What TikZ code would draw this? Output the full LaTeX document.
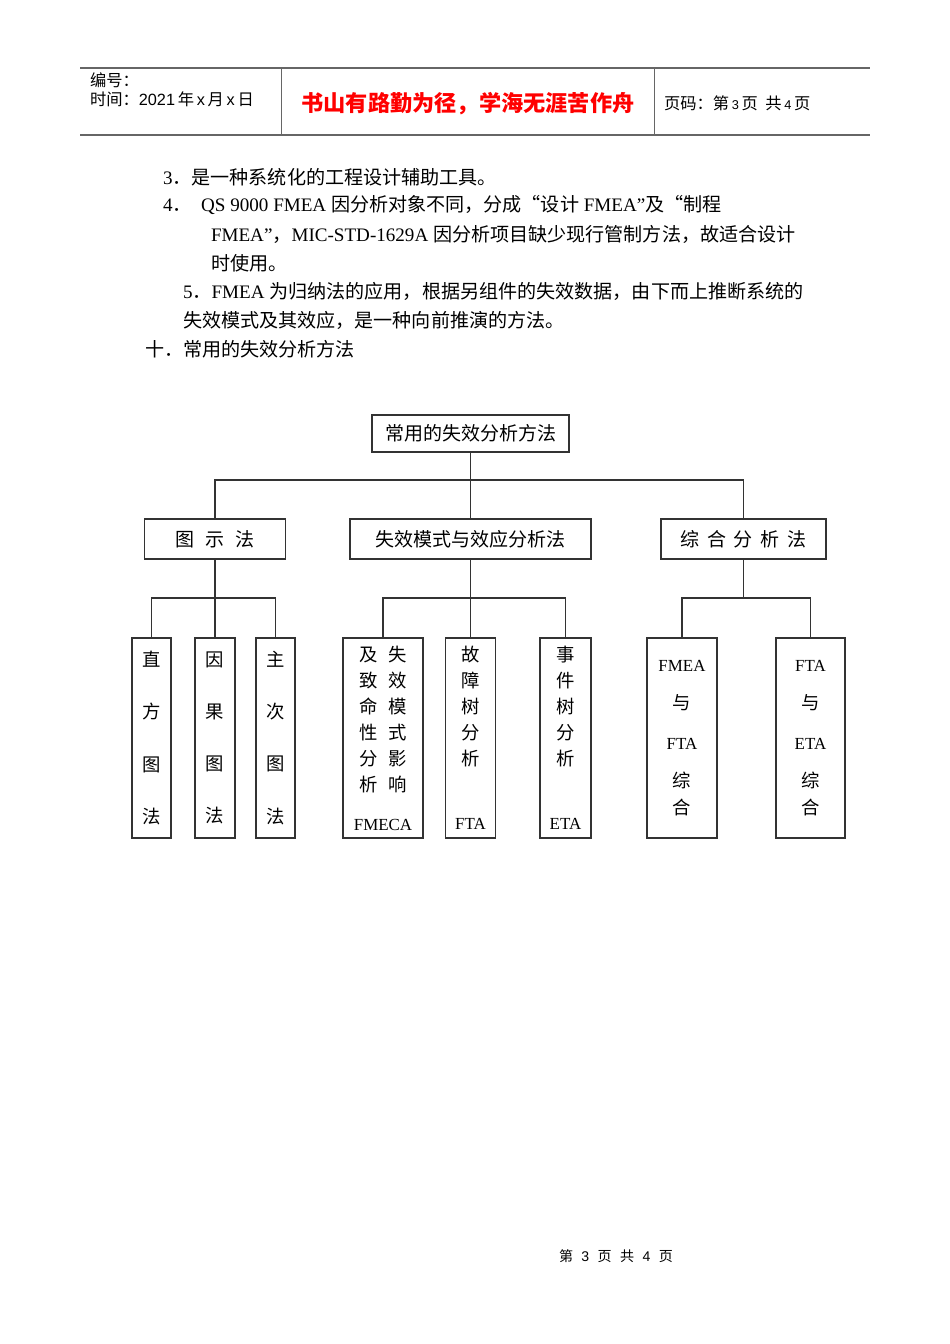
\documentclass[tikz,border=0pt]{standalone}
\usepackage{fontspec}
\setmainfont{Noto Sans CJK SC}
\newfontfamily\lat{Liberation Serif}
\newfontfamily\arial{Liberation Sans}
\definecolor{boxline}{HTML}{333333}
\definecolor{rulegray}{HTML}{666666}
\newcommand{\pxu}{0.6263pt}
\newcommand{\en}[1]{{\lat #1}}

\begin{document}
\begin{tikzpicture}[x=0.6263pt, y=-0.6263pt,
  every node/.style={inner sep=0pt, outer sep=0pt},
  body/.style={anchor=west, font=\fontsize{11.95}{14}\selectfont},
  chartbox/.style={draw=boxline, line width=0.9pt, font=\fontsize{11.9}{14}\selectfont},
  tallbox/.style={draw=boxline, line width=0.9pt, align=center, minimum height=200*\pxu},
  link/.style={draw=boxline, line width=0.9pt}]
  \useasboundingbox (0,0) rectangle (950,1344);

  % header
  \draw[rulegray, line width=1.2pt] (80,68) -- (870,68) (80,135) -- (870,135);
  \draw[rulegray, line width=0.6pt] (281,68) -- (281,135) (654,68) -- (654,135);
  \node[anchor=west, font=\fontsize{10.2}{12}\selectfont] (hdno) at (90,80) {编号：};
  \node[anchor=west, font=\fontsize{10.2}{12}\selectfont] (hddate) at (90,99)
    {时间：{\arial 2021}\,年\,{\arial x}\,月\,{\arial x}\,日};
  \node[font=\fontsize{13.9}{16}\selectfont\bfseries, text=red] (motto) at (468,104)
    {书山有路勤为径，学海无涯苦作舟};
  \node[anchor=west, font=\fontsize{10.2}{12}\selectfont] (hdpage) at (664,103)
    {页码：第\,{\arial\fontsize{8}{10}\selectfont 3}\,页\ \ 共\,{\arial\fontsize{8}{10}\selectfont 4}\,页};

  % text
  \node[body] (line1) at (163,177) {\en{3}．是一种系统化的工程设计辅助工具。};
  \node[body] (line2) at (163,205)
    {\en{4}．\hspace{6pt}\en{QS 9000 FMEA }因分析对象不同，分成“设计\en{ FMEA”}及“制程};
  \node[body] (line3) at (211,234)
    {\en{FMEA”}，\en{MIC-STD-1629A }因分析项目缺少现行管制方法，故适合设计};
  \node[body] (line4) at (211,263) {时使用。};
  \node[body] (line5) at (183,291)
    {\en{5}．\en{FMEA }为归纳法的应用，根据另组件的失效数据，由下而上推断系统的};
  \node[body] (line6) at (183,320) {失效模式及其效应，是一种向前推演的方法。};
  \node[body] (line7) at (145,349) {十．常用的失效分析方法};

  % chart
  \node[chartbox, minimum width=197*\pxu, minimum height=37*\pxu] (top) at (470.5,433.5)
    {常用的失效分析方法};
  \node[chartbox, minimum width=141*\pxu, minimum height=40*\pxu] (graph) at (215,539)
    {图\hspace{0.6em}示\hspace{0.6em}法};
  \node[chartbox, minimum width=241*\pxu, minimum height=40*\pxu] (fmode) at (470.5,539)
    {失效模式与效应分析法};
  \node[chartbox, minimum width=165*\pxu, minimum height=40*\pxu] (synth) at (743.5,539)
    {综\hspace{0.42em}合\hspace{0.42em}分\hspace{0.42em}析\hspace{0.42em}法};

  \node[tallbox, minimum width=39*\pxu, font=\fontsize{11.5}{32.6}\selectfont] (histo) at (151.5,738)
    {直\\方\\图\\法};
  \node[tallbox, minimum width=40*\pxu, font=\fontsize{11.5}{32.6}\selectfont] (cause) at (215,738)
    {因\\果\\图\\法};
  \node[tallbox, minimum width=39*\pxu, font=\fontsize{11.5}{32.6}\selectfont] (pareto) at (275.5,738)
    {主\\次\\图\\法};
  \node[tallbox, minimum width=80*\pxu, font=\fontsize{11.5}{16.3}\selectfont] (fmeca) at (383,738)
    {及\hspace{0.55em}失\\致\hspace{0.55em}效\\命\hspace{0.55em}模\\性\hspace{0.55em}式\\
     分\hspace{0.55em}影\\析\hspace{0.55em}响\\[8pt]{\lat\fontsize{10.6}{12}\selectfont FMECA}};
  \node[tallbox, minimum width=50*\pxu, font=\fontsize{11.5}{16.3}\selectfont] (fta) at (470.5,738)
    {故\\障\\树\\分\\析\\[24pt]{\lat\fontsize{10.6}{12}\selectfont FTA}};
  \node[tallbox, minimum width=51*\pxu, font=\fontsize{11.5}{16.3}\selectfont] (eta) at (565.5,738)
    {事\\件\\树\\分\\析\\[24pt]{\lat\fontsize{10.6}{12}\selectfont ETA}};
  \node[tallbox, minimum width=70*\pxu, font=\fontsize{11.5}{16.3}\selectfont] (fmeafta) at (682,738)
    {{\lat\fontsize{10.6}{12}\selectfont FMEA}\\[7.5pt]与\\[8.8pt]{\lat\fontsize{10.6}{12}\selectfont FTA}\\[7.5pt]综\\[0.6pt]合};
  \node[tallbox, minimum width=69*\pxu, font=\fontsize{11.5}{16.3}\selectfont] (ftaeta) at (810.5,738)
    {{\lat\fontsize{10.6}{12}\selectfont FTA}\\[7.5pt]与\\[8.8pt]{\lat\fontsize{10.6}{12}\selectfont ETA}\\[7.5pt]综\\[0.6pt]合};

  \coordinate (bar1) at (0,480);
  \coordinate (bar2) at (0,598);
  \path[link] (top) -- (fmode);
  \path[link] (graph.north) -- (graph.north |- bar1) -- (synth.north |- bar1) -- (synth.north);
  \path[link] (graph) -- (cause);
  \path[link] (histo.north) -- (histo.north |- bar2) -- (pareto.north |- bar2) -- (pareto.north);
  \path[link] (fmode) -- (fta);
  \path[link] (fmeca.north) -- (fmeca.north |- bar2) -- (eta.north |- bar2) -- (eta.north);
  \path[link] (synth.south) -- (synth.south |- bar2);
  \path[link] (fmeafta.north) -- (fmeafta.north |- bar2) -- (ftaeta.north |- bar2) -- (ftaeta.north);

  % footer
  \node[font=\fontsize{8.8}{10}\selectfont] (foot) at (616,1256)
    {第\hspace{0.6em}{\arial 3}\hspace{0.6em}页\hspace{0.6em}共\hspace{0.6em}{\arial 4}\hspace{0.6em}页};
\end{tikzpicture}
\end{document}
